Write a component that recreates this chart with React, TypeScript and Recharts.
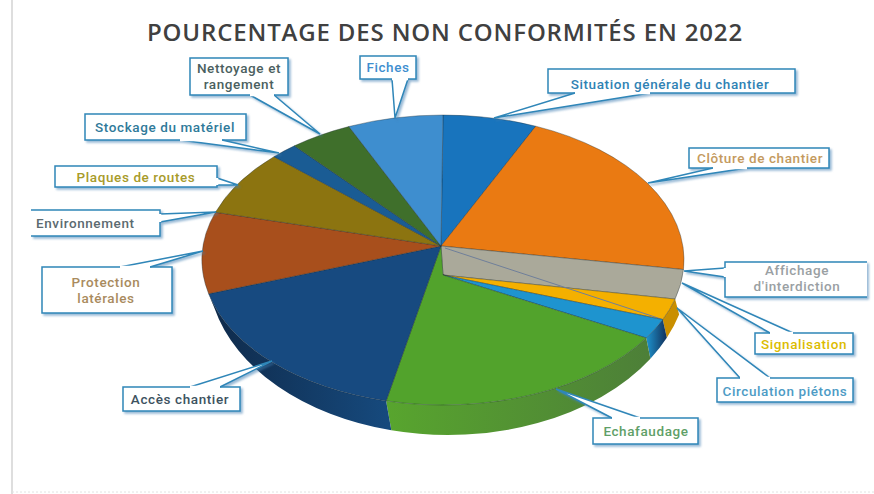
import { PieChart, Pie, Cell } from "recharts";

const names = [
  "Situation générale du chantier",
  "Clôture de chantier",
  "Affichage d'interdiction",
  "Signalisation",
  "Circulation piétons",
  "Echafaudage",
  "Accès chantier",
  "Protection latérales",
  "Environnement",
  "Plaques de routes",
  "Stockage du matériel",
  "Nettoyage et rangement",
  "Fiches",
];
const values = [6.3, 19.8, 3.3, 2.4, 2.3, 19.8, 17.5, 9.1, 0, 7.3, 1.8, 4.2, 6.4];
const colors = ["#1874bd", "#ea7a12", "#aaa99a", "#f4b000", "#1e94cf", "#52a32c", "#174a80", "#a84f1c", "#a84f1c", "#8c7410", "#1a5c94", "#3f6f2b", "#3e8ecf"];

const data = names.map((name, i) => ({ name, value: values[i] }));

// la perspective : ellipse du dessus, ellipse du dessous
const TOP = { x: 443, y: 260, rx: 241, ry: 145 };
const BOTTOM = { x: 448, y: 270, rx: 240, ry: 165 };
const LOW_APEX = { x: 443, y: 275 };

const sideFill: Record<string, [string, string]> = {
  Signalisation: ["#c98f00", "#c98f00"],
  "Circulation piétons": ["#12305a", "#1e94cf"],
  Echafaudage: ["#4d7f38", "#58a52e"],
  "Accès chantier": ["#164a7e", "#0f2a4a"],
};

const rim = (e: typeof TOP, t: number) => {
  const a = (t * Math.PI) / 180;
  return { x: e.x + e.rx * Math.sin(a), y: e.y - e.ry * Math.cos(a) };
};

const arcTo = (e: typeof TOP, from: number, to: number) => {
  const p = rim(e, to);
  const large = Math.abs(to - from) > 180 ? 1 : 0;
  const sweep = to > from ? 1 : 0;
  return `A${e.rx} ${e.ry} 0 ${large} ${sweep} ${p.x} ${p.y}`;
};

function Slice(props: any) {
  const { cx, cy, startAngle, endAngle, fill, name } = props;
  const t0 = 90 - startAngle;
  const t1 = 90 - endAngle;
  if (t1 - t0 < 0.01) return null;
  const a = rim(TOP, t0);
  const lowered = name === "Signalisation" || name === "Circulation piétons";
  const start = lowered ? `M${LOW_APEX.x} ${LOW_APEX.y}` : `M${cx} ${cy}`;
  let close = "Z";
  if (name === "Affichage d'interdiction") close = `L${LOW_APEX.x} ${LOW_APEX.y}Z`;
  let before = "";
  if (name === "Echafaudage") before = `L${LOW_APEX.x} ${LOW_APEX.y}`;
  const d = `${start}${before}L${a.x} ${a.y}${arcTo(TOP, t0, t1)}${close}`;

  const side = sideFill[name];
  let sidePath = "";
  if (side) {
    const s0 = Math.max(t0, 103);
    const s1 = Math.min(t1, 257);
    const p0 = rim(TOP, s0);
    const q1 = rim(BOTTOM, s1);
    sidePath = `M${p0.x} ${p0.y}${arcTo(TOP, s0, s1)}L${q1.x} ${q1.y}${arcTo(BOTTOM, s1, s0)}Z`;
  }
  const gid = `side-${name.length}`;
  const end = rim(TOP, t1);
  return (
    <g>
      {side && (
        <>
          <defs>
            <linearGradient id={gid} x1="0" y1="0" x2="1" y2="0">
              <stop offset="0%" stopColor={side[1]} />
              <stop offset="100%" stopColor={side[0]} />
            </linearGradient>
          </defs>
          <path d={sidePath} fill={`url(#${gid})`} />
        </>
      )}
      <path d={d} fill={fill} stroke="#1c2a30" strokeOpacity={0.45} strokeWidth={0.8} />
      {name === "Signalisation" && <line x1={cx + 4} y1={cy + 2} x2={end.x} y2={end.y} stroke="#6f7f9a" strokeWidth={1} />}
    </g>
  );
}

type Callout = {
  box: [number, number, number, number];
  tip: [number, number];
  base: [number, number, number, number];
  lines: [number, number][];
  color: string;
  text: string[];
  open?: "left" | "right";
  anchor?: "start";
};

const callouts: Record<string, Callout> = {
  "Situation générale du chantier": { box: [548, 69, 247, 24], tip: [494, 118], base: [575, 93, 650, 93], lines: [[670, 89]], color: "#2f82b4", text: ["Situation générale du chantier"] },
  "Clôture de chantier": { box: [689, 148, 140, 20], tip: [648, 183], base: [713, 168, 747, 168], lines: [[760, 163]], color: "#c49a5e", text: ["Clôture de chantier"] },
  "Affichage d'interdiction": { box: [725, 262, 142, 35], tip: [684, 271], base: [725, 268, 725, 277], lines: [[797, 275], [797, 291]], color: "#9aa0a3", text: ["Affichage", "d'interdiction"], open: "right" },
  Signalisation: { box: [755, 333, 98, 21], tip: [682, 283], base: [770, 333, 793, 333], lines: [[804, 349]], color: "#dcbc00", text: ["Signalisation"] },
  "Circulation piétons": { box: [717, 378, 136, 24], tip: [677, 308], base: [740, 378, 770, 378], lines: [[785, 396]], color: "#4d9bc5", text: ["Circulation piétons"] },
  Echafaudage: { box: [593, 418, 105, 26], tip: [556, 389], base: [612, 418, 640, 418], lines: [[646, 436]], color: "#5f9f68", text: ["Echafaudage"] },
  "Accès chantier": { box: [123, 387, 117, 24], tip: [272, 361], base: [190, 387, 220, 387], lines: [[180, 404]], color: "#3d5260", text: ["Accès chantier"] },
  "Protection latérales": { box: [42, 267, 130, 46], tip: [203, 251], base: [120, 267, 150, 267], lines: [[106, 287], [106, 303]], color: "#a98b5e", text: ["Protection", "latérales"] },
  Environnement: { box: [31, 210, 129, 26], tip: [216, 212], base: [160, 214, 160, 222], lines: [[36, 228]], color: "#5c6a70", text: ["Environnement"], open: "left", anchor: "start" },
  "Plaques de routes": { box: [55, 166, 162, 21], tip: [238, 185], base: [217, 178, 217, 185], lines: [[136, 182]], color: "#a89b2a", text: ["Plaques de routes"] },
  "Stockage du matériel": { box: [85, 114, 161, 26], tip: [279, 153], base: [180, 140, 222, 140], lines: [[165, 132]], color: "#2f7a9a", text: ["Stockage du matériel"] },
  "Nettoyage et rangement": { box: [190, 58, 98, 37], tip: [320, 134], base: [250, 95, 274, 95], lines: [[239, 73], [239, 89]], color: "#4b5f60", text: ["Nettoyage et", "rangement"] },
  Fiches: { box: [360, 56, 56, 23], tip: [395, 118], base: [392, 79, 408, 79], lines: [[388, 72]], color: "#3e8ecf", text: ["Fiches"] },
};

const BORDER = "#2f86b8";

function CalloutLabel(props: any) {
  const c = callouts[props.name];
  if (!c) return null;
  const [x, y, w, h] = c.box;
  const [bx1, by1, bx2, by2] = c.base;
  let outline = <rect x={x} y={y} width={w} height={h} fill="#fff" stroke={BORDER} strokeWidth={1.5} />;
  if (c.open === "right") {
    outline = <path d={`M${x + w} ${y}H${x}V${y + h}H${x + w}`} fill="#fff" stroke={BORDER} strokeWidth={1.5} />;
  }
  if (c.open === "left") {
    outline = <path d={`M${x} ${y}H${x + w}V${y + h}H${x}`} fill="#fff" stroke={BORDER} strokeWidth={1.5} />;
  }
  return (
    <g>
      <g style={{ filter: "drop-shadow(2px 2px 1px rgba(70,130,180,0.55))" }}>
        {outline}
        <path d={`M${bx1} ${by1}L${c.tip[0]} ${c.tip[1]}L${bx2} ${by2}`} fill="#fff" stroke={BORDER} strokeWidth={1.5} />
      </g>
      <line x1={bx1} y1={by1} x2={bx2} y2={by2} stroke="#fff" strokeWidth={2.5} />
      {c.text.map((t, i) => (
        <text
          key={t}
          x={c.lines[i][0]}
          y={c.lines[i][1]}
          textAnchor={c.anchor ?? "middle"}
          fontFamily="Roboto, sans-serif"
          fontSize={13.5}
          fontWeight={500}
          letterSpacing={0.6}
          fill={c.color}
        >
          {t}
        </text>
      ))}
    </g>
  );
}

export default function App() {
  return (
    <div style={{ position: "absolute", left: 0, top: 0, width: 874, height: 494, overflow: "hidden", background: "#fff" }}>
      <PieChart width={874} height={494} margin={{ top: 0, right: 0, bottom: 0, left: 0 }}>
        <text x={445} y={41} textAnchor="middle" fontFamily="'Open Sans', sans-serif" fontSize={24} fontWeight={600} letterSpacing={0.85} fill="#404040">
          POURCENTAGE DES NON CONFORMITÉS EN 2022
        </text>
        <line x1={12} y1={0} x2={12} y2={494} stroke="#bdbdbd" strokeWidth={1} />
        <line x1={12} y1={492} x2={874} y2={492} stroke="#e2e2e2" strokeWidth={1} strokeDasharray="2 2" />
        <Pie
          data={data}
          dataKey="value"
          nameKey="name"
          cx={441}
          cy={246}
          outerRadius={120}
          startAngle={90}
          endAngle={-270}
          paddingAngle={0}
          stroke="none"
          shape={Slice}
          activeShape={Slice}
          inactiveShape={Slice}
          label={CalloutLabel}
          labelLine={false}
          isAnimationActive={false}
        >
          {names.map((n, i) => (
            <Cell key={n} fill={colors[i]} />
          ))}
        </Pie>
      </PieChart>
    </div>
  );
}
